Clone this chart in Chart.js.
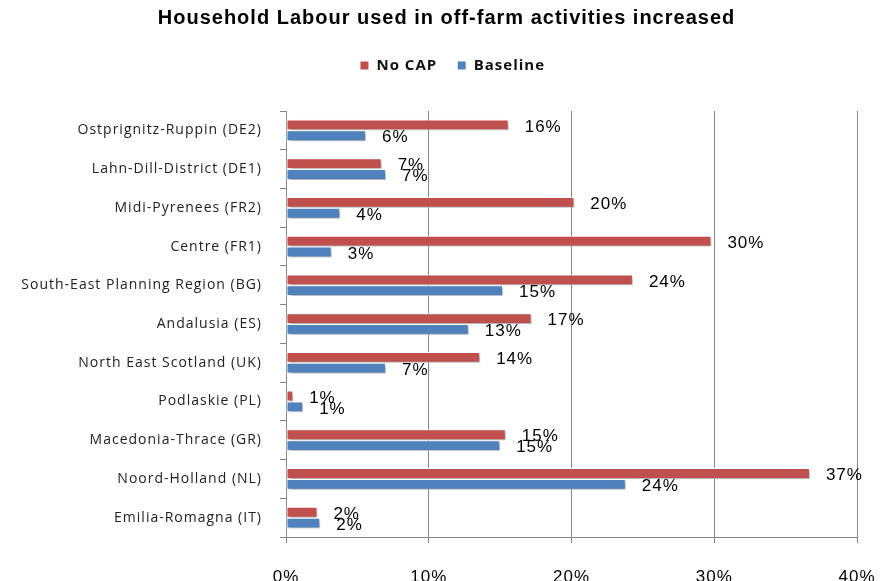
<!DOCTYPE html>
<html>
<head>
<meta charset="utf-8">
<script src="https://cdn.jsdelivr.net/npm/chart.js@4.4.0/dist/chart.umd.min.js"></script>
<style>
  html, body { margin: 0; padding: 0; background: #fff; overflow: hidden; }
  #wrap { width: 887px; height: 600px; position: relative; }
</style>
</head>
<body>
<div id="wrap"><canvas id="chart"></canvas></div>
<script>
// Regions, top to bottom
const categories = [
    'Ostprignitz-Ruppin (DE2)',
    'Lahn-Dill-District (DE1)',
    'Midi-Pyrenees (FR2)',
    'Centre (FR1)',
    'South-East Planning Region (BG)',
    'Andalusia (ES)',
    'North East Scotland (UK)',
    'Podlaskie (PL)',
    'Macedonia-Thrace (GR)',
    'Noord-Holland (NL)',
    'Emilia-Romagna (IT)'
];

// Values in percent
const noCap = [15.6, 6.7, 20.2, 29.8, 24.3, 17.2, 13.6, 0.5, 15.4, 36.7, 2.2];
const baseline = [5.6, 7.0, 3.8, 3.2, 15.2, 12.8, 7.0, 1.2, 15.0, 23.8, 2.4];

const xTicks = [0, 10, 20, 30, 40];

const labelFont = 'Liberation Sans, Arial, sans-serif';

// the original text is rendered with wide spacing
const spacing = {
    id: 'spacing',
    beforeLayout(chart) { chart.ctx.letterSpacing = '1px'; },
    beforeDraw(chart) { chart.ctx.letterSpacing = '1px'; }
};

// extra room under the legend, and title/legend centred a bit to the right
const headerBoxes = {
    id: 'headerBoxes',
    beforeInit(chart) {
        const fit = chart.legend.fit;
        chart.legend.fit = function() {
            fit.bind(chart.legend)();
            this.height += 28;
        };
    },
    afterLayout(chart) {
        if (chart.titleBlock) {
            chart.titleBlock.left += 18;
            chart.titleBlock.right += 18;
        }
        if (chart.legend) {
            chart.legend.left += 24;
            chart.legend.right += 24;
        }
    }
};

// shadow behind the bars
const shadowPlugin = {
    id: 'barShadow',
    beforeDatasetsDraw(chart) {
        const ctx = chart.ctx;
        ctx.save();
        ctx.shadowColor = 'rgba(0,0,0,0.35)';
        ctx.shadowBlur = 3;
        ctx.shadowOffsetX = 2;
        ctx.shadowOffsetY = 2;
    },
    afterDatasetsDraw(chart) {
        chart.ctx.restore();
    }
};

// percentage labels to the right of each bar
const valueLabels = {
    id: 'valueLabels',
    afterDatasetsDraw(chart) {
        const ctx = chart.ctx;
        ctx.save();
        ctx.font = '17px ' + labelFont;
        ctx.fillStyle = '#000';
        ctx.textAlign = 'left';
        ctx.textBaseline = 'middle';
        chart.data.datasets.forEach(function(ds, i) {
            chart.getDatasetMeta(i).data.forEach(function(bar, j) {
                ctx.fillText(Math.round(ds.data[j]) + '%', bar.x + 16, bar.y + 2);
            });
        });
        ctx.restore();
    }
};

const ctx = document.getElementById('chart').getContext('2d');
new Chart(ctx, {
    type: 'bar',
    data: {
        labels: categories,
        datasets: [{
            label: 'No CAP',
            data: noCap,
            backgroundColor: '#C0504D',
            borderColor: '#ffffff',
            borderWidth: 1,
            borderSkipped: false,
            categoryPercentage: 0.56,
            barPercentage: 1.0
        }, {
            label: 'Baseline',
            data: baseline,
            backgroundColor: '#4F81BD',
            borderColor: '#ffffff',
            borderWidth: 1,
            borderSkipped: false,
            categoryPercentage: 0.56,
            barPercentage: 1.0
        }]
    },
    options: {
        indexAxis: 'y',
        responsive: true,
        maintainAspectRatio: false,
        animation: false,
        layout: {
            padding: { left: 0, right: 30, top: 0, bottom: 12 }
        },
        plugins: {
            title: {
                display: true,
                text: 'Household Labour used in off-farm activities increased',
                color: '#000',
                font: { family: labelFont, size: 20, weight: 'bold' },
                padding: { top: 6, bottom: 8 }
            },
            legend: {
                position: 'top',
                labels: {
                    color: '#111',
                    boxWidth: 9,
                    boxHeight: 9,
                    padding: 20,
                    font: { family: 'Open Sans, sans-serif', size: 15, weight: 'bold' }
                }
            },
            tooltip: { enabled: false }
        },
        scales: {
            x: {
                min: 0,
                max: 40,
                afterBuildTicks: function(scale) {
                    scale.ticks = xTicks.map(function(v) { return { value: v }; });
                },
                afterFit: function(scale) {
                    scale.height = 51;
                    scale.paddingLeft = 0;
                    scale.paddingRight = 0;
                },
                ticks: {
                    color: '#000',
                    padding: 24,
                    font: { family: labelFont, size: 17 },
                    callback: function(value) { return value + '%'; }
                },
                grid: {
                    color: '#868686',
                    tickLength: 6,
                    lineWidth: 1
                },
                border: { color: '#868686' }
            },
            y: {
                afterFit: function(scale) { scale.width = 286; },
                ticks: {
                    color: '#222',
                    padding: 18,
                    font: { family: 'Open Sans, sans-serif', size: 14 }
                },
                grid: {
                    drawOnChartArea: false,
                    color: '#868686',
                    tickLength: 6,
                    offset: true
                },
                border: { color: '#868686' }
            }
        }
    },
    plugins: [spacing, headerBoxes, shadowPlugin, valueLabels]
});
</script>
</body>
</html>
